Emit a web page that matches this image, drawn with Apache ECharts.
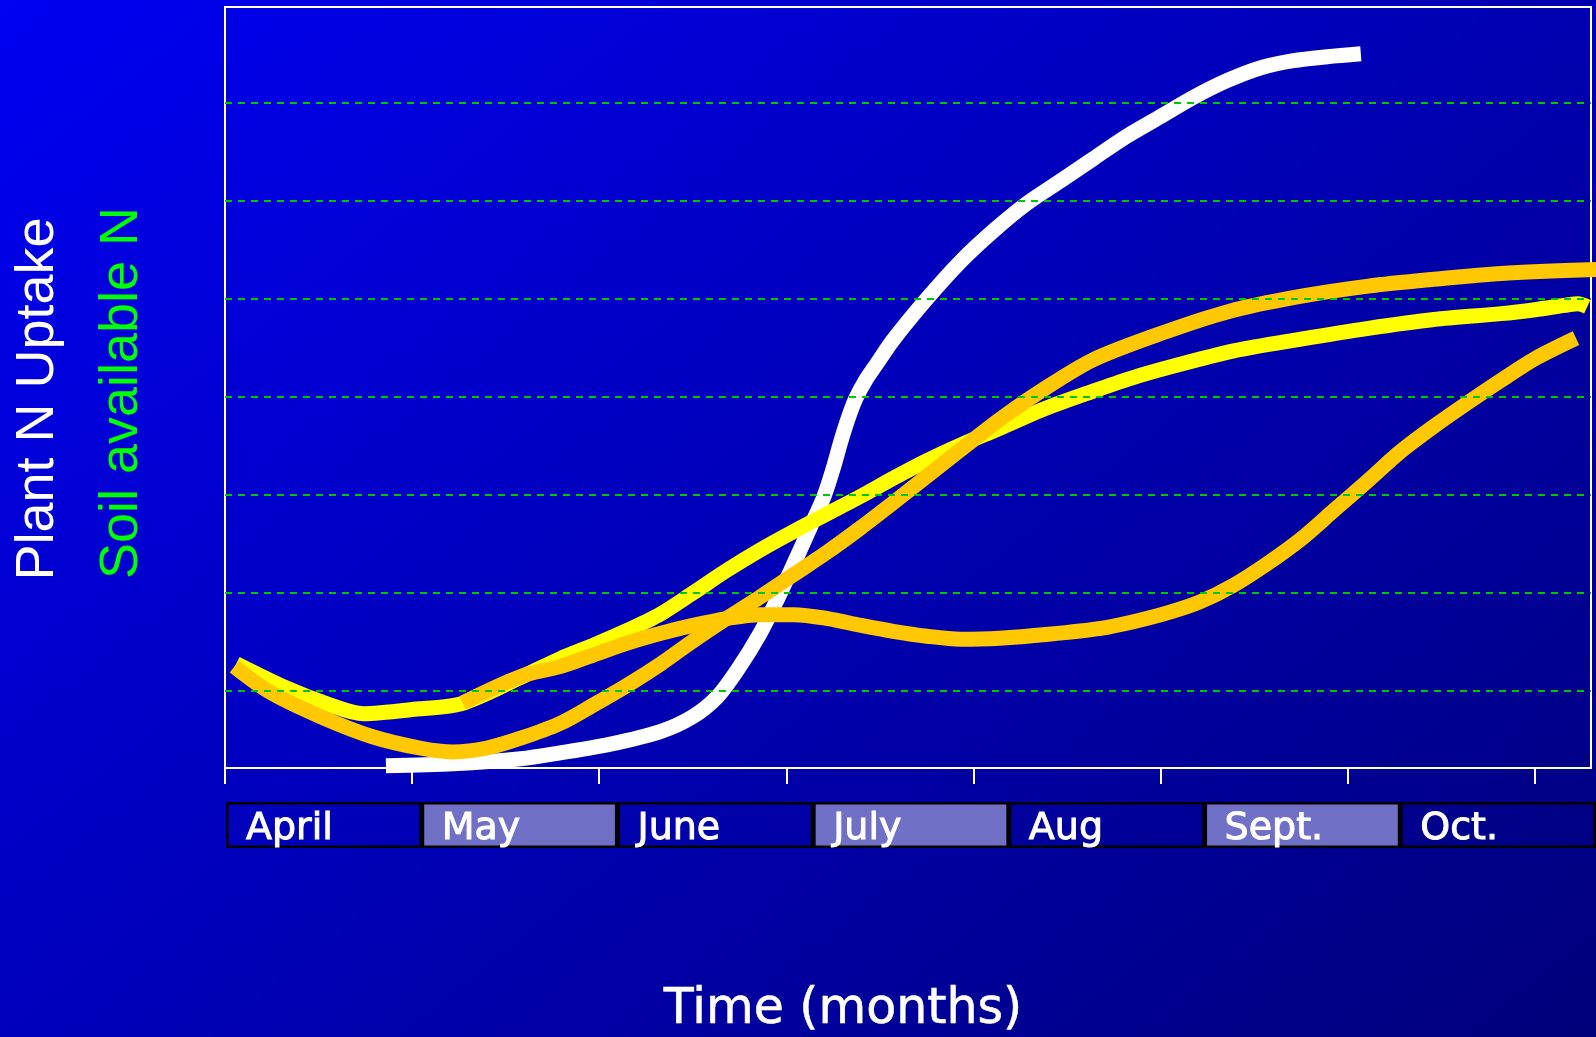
<!DOCTYPE html>
<html>
<head>
<meta charset="utf-8">
<title>Plant N uptake and soil available N over the season</title>
<script src="https://cdn.jsdelivr.net/npm/echarts@6/dist/echarts.min.js"></script>
<style>
  html, body { margin: 0; padding: 0; background: #0000c0; }
  #chart { width: 1596px; height: 1037px; }
</style>
</head>
<body>
<div id="chart"></div>
<script>
// Months shown in the band under the plot (x = months since 1 April)
const months = ['April', 'May', 'June', 'July', 'Aug', 'Sept.', 'Oct.'];
const monthBand = [1, 1, 1, 1, 1, 1, 1];
const monthTicks = [0, 1, 2, 3, 4, 5, 6, 7];
// Horizontal reference levels
const gridLevels = [1, 2, 3, 4, 5, 6, 7];

// Curves as [months since 1 April, relative N]
const plantUptake = [
  [0.86, 0.24], [1.22, 0.26], [1.58, 0.31], [1.79, 0.37], [2.06, 0.46], [2.33, 0.59],
  [2.50, 0.74], [2.63, 0.94], [2.74, 1.22], [2.86, 1.59], [2.95, 1.93], [3.04, 2.30],
  [3.13, 2.68], [3.20, 2.98], [3.25, 3.27], [3.29, 3.54], [3.33, 3.78], [3.37, 3.98],
  [3.42, 4.16], [3.48, 4.33], [3.57, 4.58], [3.75, 5.00], [3.93, 5.38], [4.11, 5.70],
  [4.29, 5.98], [4.47, 6.21], [4.64, 6.43], [4.82, 6.66], [5.00, 6.86], [5.18, 7.06],
  [5.36, 7.23], [5.54, 7.36], [5.71, 7.43], [5.89, 7.47], [6.07, 7.50]
];
const soilAvailable = [
  [0.06, 1.28], [0.33, 1.03], [0.56, 0.86], [0.74, 0.77], [1.04, 0.82], [1.26, 0.87],
  [1.58, 1.14], [1.79, 1.33], [1.97, 1.47], [2.15, 1.62], [2.33, 1.79], [2.50, 2.00],
  [2.68, 2.23], [2.86, 2.44], [3.04, 2.63], [3.22, 2.81], [3.40, 2.99], [3.57, 3.17],
  [3.75, 3.35], [3.93, 3.51], [4.14, 3.68], [4.38, 3.88], [4.64, 4.06], [4.84, 4.19],
  [5.04, 4.30], [5.39, 4.47], [5.75, 4.59], [6.11, 4.70], [6.46, 4.79], [6.82, 4.85],
  [7.00, 4.89], [7.18, 4.94], [7.23, 4.95], [7.28, 4.92]
];
const orangeEarly = [
  [0.05, 1.25], [0.24, 0.99], [0.51, 0.74], [0.78, 0.54], [1.04, 0.42], [1.22, 0.38],
  [1.40, 0.42], [1.58, 0.52], [1.79, 0.67], [1.97, 0.86], [2.15, 1.06], [2.33, 1.28],
  [2.50, 1.51], [2.68, 1.74], [2.86, 1.96], [3.04, 2.19], [3.22, 2.42], [3.40, 2.67],
  [3.57, 2.92], [3.75, 3.19], [3.93, 3.46], [4.14, 3.77], [4.36, 4.06], [4.64, 4.38],
  [5.02, 4.66], [5.36, 4.87], [5.73, 5.02], [6.11, 5.13], [6.46, 5.20], [6.82, 5.26],
  [7.33, 5.30]
];
const orangeLate = [
  [1.27, 0.88], [1.58, 1.15], [1.79, 1.25], [1.97, 1.37], [2.15, 1.49], [2.33, 1.59],
  [2.50, 1.67], [2.68, 1.74], [2.86, 1.78], [3.04, 1.78], [3.22, 1.74], [3.40, 1.67],
  [3.57, 1.61], [3.75, 1.56], [3.93, 1.53], [4.14, 1.54], [4.40, 1.58], [4.68, 1.64],
  [4.86, 1.71], [5.04, 1.80], [5.21, 1.91], [5.39, 2.08], [5.57, 2.30], [5.75, 2.55],
  [5.93, 2.85], [6.11, 3.15], [6.28, 3.44], [6.46, 3.70], [6.64, 3.94], [6.82, 4.17],
  [7.00, 4.39], [7.22, 4.60]
];

const chart = echarts.init(document.getElementById('chart'), null, { renderer: 'canvas' });

function curve(name, data, color) {
  return {
    name: name,
    type: 'line',
    data: data,
    xAxisIndex: 0,
    yAxisIndex: 0,
    smooth: 0.3,
    showSymbol: false,
    symbol: 'none',
    clip: false,
    silent: true,
    z: 3,
    lineStyle: { color: color, width: 15, cap: 'butt', join: 'round' }
  };
}

const lavender = '#7070c6';

chart.setOption({
  animation: false,
  backgroundColor: {
    type: 'linear', x: 0, y: 0, x2: 0.707, y2: 1.36,
    colorStops: [
      { offset: 0, color: '#0000f2' },
      { offset: 1, color: '#00007a' }
    ]
  },
  grid: [
    { left: 225, top: 7, right: 5, bottom: 269, show: true,
      borderColor: '#ffffff', borderWidth: 2, backgroundColor: 'transparent' },
    { left: 226, top: 802, right: -4, height: 46, show: false }
  ],
  xAxis: [
    {
      type: 'value', gridIndex: 0, min: 0, max: 7.3,
      axisLine: { show: false },
      axisTick: { show: true, customValues: monthTicks, length: 16, inside: false,
                  lineStyle: { color: '#ffffff', width: 2 } },
      axisLabel: { show: false },
      splitLine: { show: false }
    },
    {
      type: 'category', gridIndex: 1, data: months, boundaryGap: true,
      axisLine: { show: false }, axisTick: { show: false },
      axisLabel: { show: false }, splitLine: { show: false }
    }
  ],
  yAxis: [
    {
      type: 'value', gridIndex: 0, min: 0.216, max: 7.977,
      axisLine: { show: false }, axisTick: { show: false },
      axisLabel: { show: false }, splitLine: { show: false }
    },
    {
      type: 'value', gridIndex: 1, min: 0, max: 1, show: false
    }
  ],
  graphic: [
    { type: 'text', x: 38, y: 399, rotation: Math.PI / 2, silent: true,
      style: { text: 'Plant N Uptake', fill: '#ffffff', fontSize: 54,
               fontFamily: '"Liberation Sans", Arial, sans-serif',
               align: 'center', verticalAlign: 'middle' } },
    { type: 'text', x: 122.5, y: 393, rotation: Math.PI / 2, silent: true,
      style: { text: 'Soil available N', fill: '#00ff00', fontSize: 54,
               fontFamily: '"Liberation Sans", Arial, sans-serif',
               align: 'center', verticalAlign: 'middle' } },
    { type: 'text', x: 843, y: 1010, silent: true,
      style: { text: 'Time (months)', fill: '#ffffff', fontSize: 49,
               fontFamily: '"DejaVu Sans", sans-serif',
               stroke: '#ffffff', lineWidth: 0.6,
               align: 'center', verticalAlign: 'middle' } }
  ],
  series: [
    {
      name: 'levels', type: 'line', data: [], xAxisIndex: 0, yAxisIndex: 0, z: 1,
      silent: true,
      markLine: {
        silent: true, symbol: ['none', 'none'], animation: false,
        label: { show: false },
        lineStyle: { color: '#00c800', width: 2, type: [7, 6] },
        data: gridLevels.map(v => ({ yAxis: v }))
      }
    },
    curve('Plant N uptake', plantUptake, '#ffffff'),
    curve('Soil available N', soilAvailable, '#ffff00'),
    curve('Soil N, early crop', orangeEarly, '#ffc800'),
    curve('Soil N, late crop', orangeLate, '#ffc800'),
    {
      name: 'months', type: 'bar', xAxisIndex: 1, yAxisIndex: 1,
      barWidth: '100%', barGap: 0, silent: true, z: 2,
      data: monthBand.map((v, i) => ({
        value: v,
        itemStyle: { color: i % 2 ? lavender : 'rgba(0,0,0,0)' }
      })),
      itemStyle: { borderColor: '#000000', borderWidth: 2.5 },
      label: {
        show: true, position: 'insideLeft', distance: 20, formatter: '{b}',
        color: '#ffffff', fontSize: 38, fontFamily: '"DejaVu Sans", sans-serif',
        textBorderColor: '#ffffff', textBorderWidth: 1, offset: [0, 4]
      }
    }
  ]
});
</script>
</body>
</html>
